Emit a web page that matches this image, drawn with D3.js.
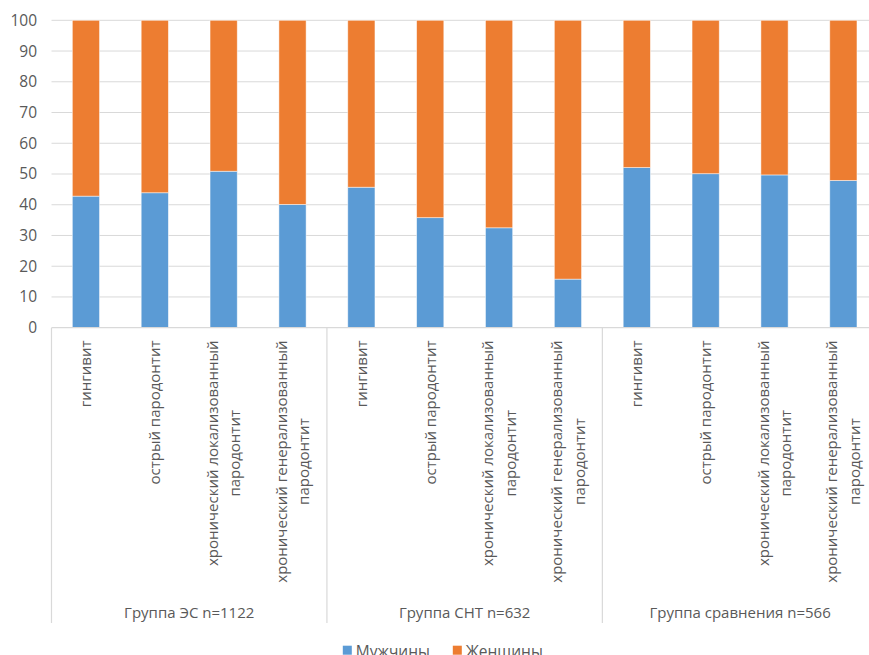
<!DOCTYPE html>
<html><head><meta charset="utf-8">
<script src="https://cdn.jsdelivr.net/npm/d3@7"></script>
<style>body{margin:0;background:#fff}svg{display:block}text{font-family:"Open Sans",sans-serif;fill:#595959}</style>
</head><body><svg id="c" width="869" height="655"></svg>
<script>
const groups = ["Группа ЭС n=1122", "Группа СНТ n=632", "Группа сравнения n=566"];
const diagnoses = [["гингивит"], ["острый пародонтит"], ["хронический локализованный", "пародонтит"], ["хронический генерализованный", "пародонтит"]];
const men = [42.8, 43.9, 50.9, 40.1, 45.7, 35.8, 32.5, 15.8, 52.1, 50.1, 49.7, 47.9];
const women = men.map(v => 100 - v);
const yTicks = [0, 10, 20, 30, 40, 50, 60, 70, 80, 90, 100];
const seriesNames = ["Мужчины", "Женщины"];
const colors = ["#5B9BD5", "#ED7D31"];

const cats = [];
groups.forEach((g, gi) => diagnoses.forEach((d, di) => cats.push({id: gi + "-" + di, group: g, gi, lines: d})));
const rows = cats.map((c, i) => ({id: c.id, m: men[i], w: women[i]}));

const svg = d3.select("#c");
const L = 51.5, R = 877.8, T = 20.3, B = 327.7;
const x = d3.scaleBand().domain(cats.map(c => c.id)).range([L, R]).paddingInner(0.605).paddingOuter(0.3025);
const y = d3.scaleLinear().domain([0, 100]).range([B, T]);
const fs = 15;

// gridlines
svg.append("g").selectAll("line").data(yTicks.slice(1)).join("line")
  .attr("x1", L).attr("x2", R).attr("y1", d => y(d)).attr("y2", d => y(d))
  .attr("stroke", "#d9d9d9").attr("stroke-width", 1);

// y axis labels
const ya = svg.append("g").attr("transform", `translate(${L},0)`)
  .call(d3.axisLeft(y).tickValues(yTicks).tickSize(0).tickPadding(14.5));
ya.select(".domain").remove();
ya.selectAll("text").attr("font-size", 15.5).style("font-family", '"Open Sans",sans-serif').attr("fill", "#595959");

// stacked bars
const stack = d3.stack().keys(["m", "w"])(rows);
svg.append("g").selectAll("g").data(stack).join("g").attr("fill", (d, i) => colors[i])
  .selectAll("rect").data(d => d).join("rect")
  .attr("x", d => x(d.data.id)).attr("width", x.bandwidth())
  .attr("y", d => y(d[1])).attr("height", d => y(d[0]) - y(d[1]))
  .attr("stroke", "#fff").attr("stroke-opacity", 0.6).attr("stroke-width", 0.8);

// category axis line
svg.append("line").attr("x1", L).attr("x2", R).attr("y1", B).attr("y2", B).attr("stroke", "#d9d9d9").attr("stroke-width", 1.2);

// group separators
const step = x.step();
const sepX = d3.range(groups.length + 1).map(i => L + i * 4 * step);
svg.append("g").selectAll("line").data(sepX).join("line")
  .attr("x1", d => d).attr("x2", d => d).attr("y1", B).attr("y2", 623)
  .attr("stroke", "#d9d9d9").attr("stroke-width", 1.2);

// category labels (rotated)
const lh = 22.8;
const catG = svg.append("g");
cats.forEach(c => {
  const cx = x(c.id) + x.bandwidth() / 2;
  const g = catG.append("g");
  const texts = c.lines.map((t, li) => g.append("text").attr("font-size", fs).text(t));
  const maxW = d3.max(texts, t => t.node().getComputedTextLength());
  const top = 340.5;
  const n = c.lines.length;
  texts.forEach((t, li) => {
    const off = (li - (n - 1) / 2) * lh;
    t.attr("text-anchor", "middle")
     .attr("transform", `translate(${cx + off},${top + maxW / 2}) rotate(-90)`)
     .attr("dy", "0.36em");
  });
});

// group labels
svg.append("g").selectAll("text").data(groups).join("text")
  .attr("x", (d, i) => (sepX[i] + sepX[i + 1]) / 2).attr("y", 617.5)
  .attr("text-anchor", "middle").attr("font-size", fs).text(d => d);

// legend
const legX = [342.8, 452.8];
const leg = svg.append("g").selectAll("g").data(seriesNames).join("g")
  .attr("transform", (d, i) => `translate(${legX[i]},0)`);
leg.append("rect").attr("x", 0).attr("y", 645.7).attr("width", 9).attr("height", 9).attr("fill", (d, i) => colors[i]);
leg.append("text").attr("x", 13).attr("y", 656.5).attr("font-size", 15.5).text(d => d);
</script></body></html>
